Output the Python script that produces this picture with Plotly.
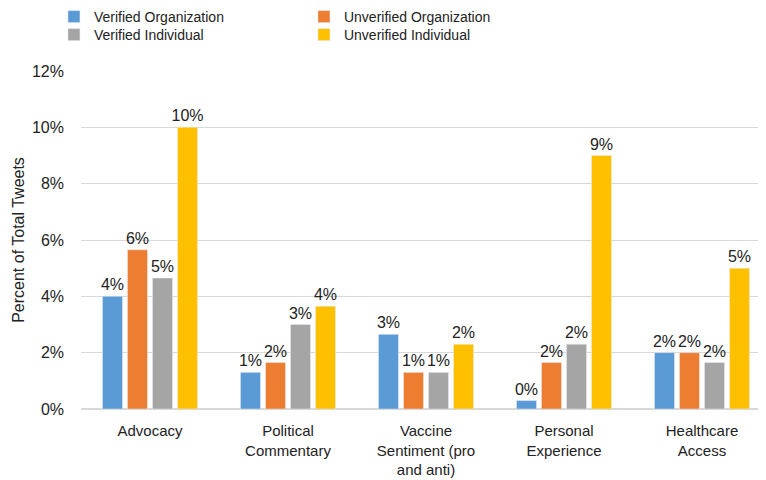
import plotly.graph_objects as go

categories = ["Advocacy", "Political<br>Commentary", "Vaccine<br>Sentiment (pro<br>and anti)",
              "Personal<br>Experience", "Healthcare<br>Access"]
series_names = ["Verified Organization", "Unverified Organization", "Verified Individual", "Unverified Individual"]
verified_org = [4.0, 1.3, 2.65, 0.3, 2.0]
unverified_org = [5.65, 1.65, 1.3, 1.65, 2.0]
verified_ind = [4.65, 3.0, 1.3, 2.3, 1.65]
unverified_ind = [10.0, 3.65, 2.3, 9.0, 5.0]
colors = ["#5B9BD5", "#ED7D31", "#A5A5A5", "#FFC000"]
legend_rows = ["legend", "legend", "legend2", "legend2"]
y_ticks = [0, 2, 4, 6, 8, 10, 12]
y_tick_labels = ["0%", "2%", "4%", "6%", "8%", "10%", "12%"]

font_main = "Liberation Sans, Arial, sans-serif"

fig = go.Figure()
for name, vals, col, lg in zip(series_names, [verified_org, unverified_org, verified_ind, unverified_ind],
                               colors, legend_rows):
    fig.add_trace(go.Bar(
        x=categories, y=vals, name=name, marker_color=col, legend=lg,
        text=[f"{round(v):.0f}%" for v in vals], textposition="outside",
        textfont=dict(family=font_main, size=16, color="#222222"),
        constraintext="none", cliponaxis=False,
    ))

legend_common = dict(
    orientation="h", xref="container", yref="container",
    x=0.06, xanchor="left", yanchor="middle",
    entrywidth=205, entrywidthmode="pixels",
    font=dict(family=font_main, size=14, color="#222222"),
    itemwidth=30, tracegroupgap=0,
    bgcolor="rgba(0,0,0,0)",
)

fig.update_layout(
    width=766, height=480,
    margin=dict(l=73, r=3, t=63, b=79),
    paper_bgcolor="white", plot_bgcolor="white",
    barmode="group", bargap=0.275, bargroupgap=0.2,
    font=dict(family=font_main, size=16, color="#222222"),
    legend=dict(y=1 - 9 / 480, **legend_common),
    legend2=dict(y=1 - 27 / 480, **legend_common),
    showlegend=True,
)
fig.update_xaxes(
    showline=True, linecolor="#D9D9D9", linewidth=1,
    tickfont=dict(size=15), ticks="", ticklabelstandoff=8,
)
fig.update_yaxes(
    range=[0, 12], tickmode="array", tickvals=y_ticks, ticktext=y_tick_labels,
    showgrid=True, gridcolor="#D9D9D9", gridwidth=1,
    zeroline=True, zerolinecolor="#D9D9D9",
    tickfont=dict(size=16), ticklabelstandoff=16,
    title=dict(text="Percent of Total Tweets", font=dict(size=16), standoff=3),
)

fig.write_html("out.html")
